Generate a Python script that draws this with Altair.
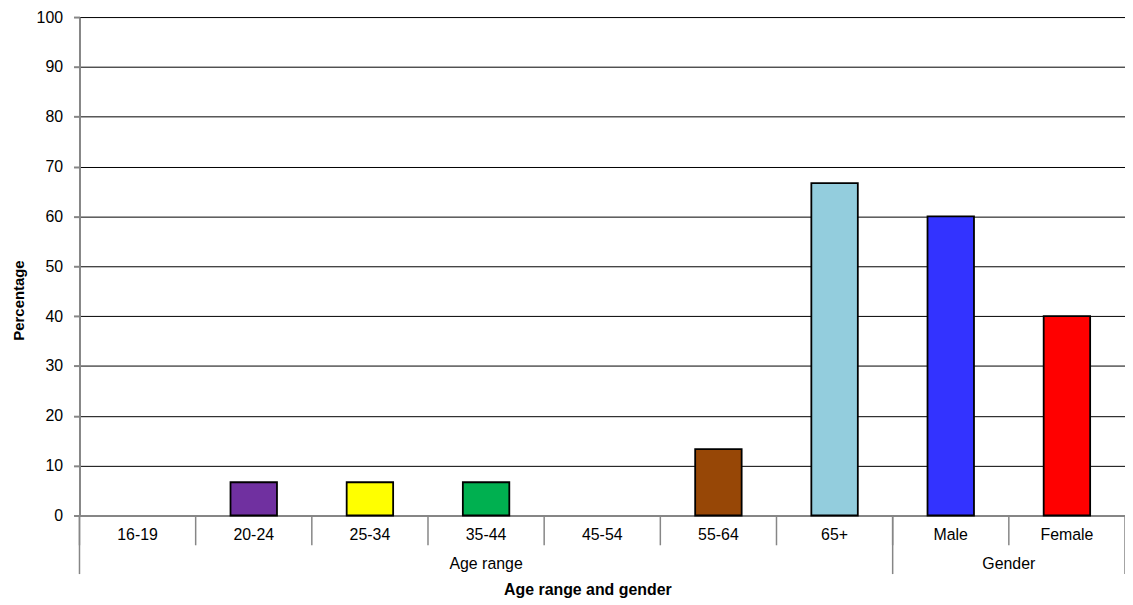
import altair as alt
import pandas as pd

categories = ["16-19", "20-24", "25-34", "35-44", "45-54", "55-64", "65+", "Male", "Female"]
values = [0, 6.67, 6.67, 6.67, 0, 13.33, 66.67, 60, 40]
colors = ["#FFFFFF", "#7030A0", "#FFFF00", "#00B050", "#FFFFFF", "#974706", "#93CDDD", "#3333FF", "#FF0000"]
group_names = ["Age range", "Gender"]
y_ticks = [0, 10, 20, 30, 40, 50, 60, 70, 80, 90, 100]

df = pd.DataFrame({"cat": categories, "value": values})
groups_mid = pd.DataFrame({"cat": ["35-44"], "label": [group_names[0]]})
groups_edge = pd.DataFrame({"cat": ["Female"], "label": [group_names[1]]})
long_start = pd.DataFrame({"cat": ["16-19", "Male"]})
long_end = pd.DataFrame({"cat": ["Female"]})

W, H = 1053, 502
FONT = "Liberation Sans"
GRAY = "#868686"

xscale = alt.Scale(type="band", domain=categories, paddingInner=0, paddingOuter=0)
yscale = alt.Scale(domain=[0, 100], nice=False)

bars = alt.Chart(df).transform_filter("datum.value > 0").mark_bar(
    width={"band": 0.4}, stroke="#000000", strokeWidth=1.8
).encode(
    x=alt.X("cat:N", scale=xscale, sort=categories,
            axis=alt.Axis(labels=False, ticks=False, title=None, domain=True,
                          domainColor=GRAY, domainWidth=2, grid=False)),
    y=alt.Y("value:Q", scale=yscale,
            axis=alt.Axis(values=y_ticks, grid=True, gridColor="#000000", gridWidth=1,
                          domainColor=GRAY, domainWidth=2, tickColor=GRAY, tickSize=6,
                          tickWidth=2, labelFontSize=16, labelFont=FONT, labelColor="#000000",
                          labelPadding=11, title="Percentage", titleFont=FONT,
                          titleFontSize=15, titleFontWeight="bold", titleColor="#000000",
                          titleAngle=-90, titleX=-61, titleY=285, titleAlign="center",
                          titleBaseline="middle")),
    color=alt.Color("cat:N", scale=alt.Scale(domain=categories, range=colors), legend=None),
)

short_rules = alt.Chart(df).mark_rule(color=GRAY, strokeWidth=1.5).encode(
    x=alt.X("cat:N", scale=xscale, sort=categories, bandPosition=0),
    y=alt.value(H), y2=alt.value(H + 30),
)
long_rules_a = alt.Chart(long_start).mark_rule(color=GRAY, strokeWidth=1.5).encode(
    x=alt.X("cat:N", scale=xscale, sort=categories, bandPosition=0),
    y=alt.value(H), y2=alt.value(H + 59),
)
long_rules_b = alt.Chart(long_end).mark_rule(color=GRAY, strokeWidth=1.5).encode(
    x=alt.X("cat:N", scale=xscale, sort=categories, bandPosition=1),
    y=alt.value(H), y2=alt.value(H + 59),
)

cat_labels = alt.Chart(df).mark_text(font=FONT, fontSize=16, color="#000000", baseline="middle").encode(
    x=alt.X("cat:N", scale=xscale, sort=categories, bandPosition=0.5),
    y=alt.value(H + 20),
    text="cat:N",
)
grp_a = alt.Chart(groups_mid).mark_text(font=FONT, fontSize=16, color="#000000", baseline="middle").encode(
    x=alt.X("cat:N", scale=xscale, sort=categories, bandPosition=0.5),
    y=alt.value(H + 49),
    text="label:N",
)
grp_b = alt.Chart(groups_edge).mark_text(font=FONT, fontSize=16, color="#000000", baseline="middle").encode(
    x=alt.X("cat:N", scale=xscale, sort=categories, bandPosition=0),
    y=alt.value(H + 49),
    text="label:N",
)
x_title = alt.Chart(pd.DataFrame({"t": ["Age range and gender"]})).mark_text(
    font=FONT, fontSize=16, fontWeight="bold", color="#000000", baseline="middle"
).encode(
    x=alt.value(512), y=alt.value(H + 75), text="t:N",
)

chart = alt.layer(
    bars, short_rules, long_rules_a, long_rules_b, cat_labels, grp_a, grp_b, x_title
).properties(
    width=W, height=H,
    autosize=alt.AutoSizeParams(type="none"),
    padding={"left": 72, "top": 7, "right": 0, "bottom": 85},
).configure_view(stroke=None).configure(background="#FFFFFF")

chart.save("out.html", embed_options={"renderer": "svg", "actions": False})
